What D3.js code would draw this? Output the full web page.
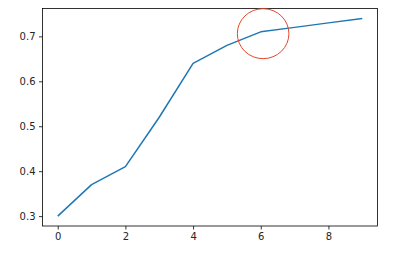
<!DOCTYPE html>
<html>
<head>
<meta charset="utf-8">
<script src="https://cdn.jsdelivr.net/npm/d3@7"></script>
<style>
  body { margin: 0; background: #fff; }
  text { font-family: "DejaVu Sans", sans-serif; font-size: 10px; fill: #262626; }
</style>
</head>
<body>
<script>
var xValues = [0, 1, 2, 3, 4, 5, 6, 7, 8, 9];
var yValues = [0.30, 0.37, 0.41, 0.52, 0.64, 0.68, 0.71, 0.72, 0.73, 0.74];
var xTicks = [0, 2, 4, 6, 8];
var yTicks = [0.3, 0.4, 0.5, 0.6, 0.7];
var circleCenter = [6.07, 0.706];

var width = 396, height = 257;
var margin = {left: 42.5, top: 8.5, right: 18.5, bottom: 31};

var svg = d3.select("body")
  .append("svg")
  .attr("width", width)
  .attr("height", height);

var x = d3.scaleLinear()
  .domain([-0.45, 9.45])
  .range([margin.left, width - margin.right]);

var y = d3.scaleLinear()
  .domain([0.278, 0.762])
  .range([height - margin.bottom, margin.top]);

// axes
var xAxis = svg.append("g")
  .attr("transform", "translate(0," + (height - margin.bottom) + ")")
  .call(d3.axisBottom(x).tickValues(xTicks).tickSize(3.5).tickPadding(3.5).tickFormat(d3.format("d")));

var yAxis = svg.append("g")
  .attr("transform", "translate(" + margin.left + ",0)")
  .call(d3.axisLeft(y).tickValues(yTicks).tickSize(3.5).tickPadding(3.5).tickFormat(d3.format(".1f")));

svg.selectAll(".domain").remove();
svg.selectAll(".tick line").attr("stroke", "#000").attr("stroke-width", 0.8);
svg.selectAll(".tick text").attr("fill", "#262626").style("font-size", "10px").style("font-family", "DejaVu Sans, sans-serif");

// frame
svg.append("rect")
  .attr("x", margin.left)
  .attr("y", margin.top)
  .attr("width", width - margin.left - margin.right)
  .attr("height", height - margin.top - margin.bottom)
  .attr("fill", "none")
  .attr("stroke", "#000")
  .attr("stroke-width", 0.8);

// line
var line = d3.line()
  .x(function(d, i) { return x(xValues[i]); })
  .y(function(d) { return y(d); });

svg.append("path")
  .datum(yValues)
  .attr("d", line)
  .attr("fill", "none")
  .attr("stroke", "#1f77b4")
  .attr("stroke-width", 1.5)
  .attr("stroke-linejoin", "round");

// highlight circle
svg.append("ellipse")
  .attr("cx", x(circleCenter[0]))
  .attr("cy", y(circleCenter[1]))
  .attr("rx", 25.8)
  .attr("ry", 25)
  .attr("fill", "none")
  .attr("stroke", "#e4472b")
  .attr("stroke-width", 1);
</script>
</body>
</html>
